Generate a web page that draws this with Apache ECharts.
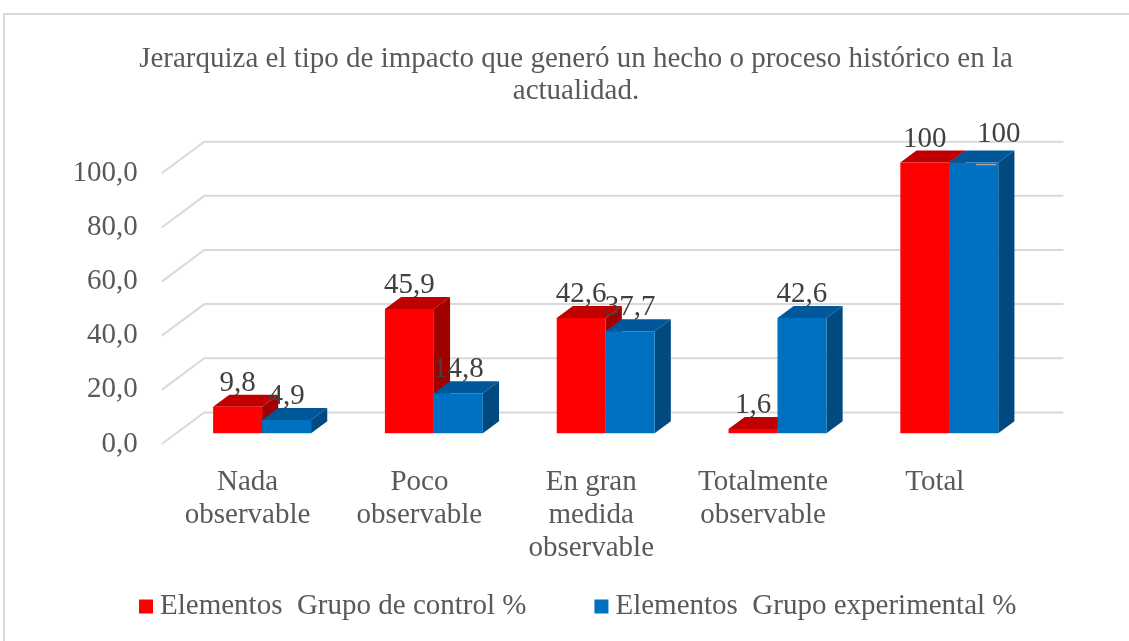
<!DOCTYPE html>
<html>
<head>
<meta charset="utf-8">
<script src="https://cdn.jsdelivr.net/npm/echarts@6/dist/echarts.min.js"></script>
<style>
  html, body { margin: 0; padding: 0; background: #fff; }
  #chart { width: 1129px; height: 641px; }
</style>
</head>
<body>
<div id="chart"></div>
<script>
// datos
const categorias = ['Nada\nobservable', 'Poco\nobservable', 'En gran\nmedida\nobservable', 'Totalmente\nobservable', 'Total'];
const grupoControl = [9.8, 45.9, 42.6, 1.6, 100];
const grupoExperimental = [4.9, 14.8, 37.7, 42.6, 100];
const ticksY = [0, 20, 40, 60, 80, 100];
const nombres = ['Elementos  Grupo de control %', 'Elementos  Grupo experimental %'];

const FONT = "'Liberation Serif', 'Times New Roman', serif";
const FS = 29;
// desplazamiento del piso 3D (frente -> fondo)
const DX = 42.6, DY = -31.6;
const BAR_FRONT = 0.34, BAR_BACK = 0.72;

function fmt(v) {
  return Number.isInteger(v) ? String(v) : v.toFixed(1).replace('.', ',');
}

// etiqueta movida a mano (como en el original)
const labelShift = { '1-4': [25, -5] };

function barRender(serieIdx, front, top, side) {
  return function (params, api) {
    const idx = api.value(0);
    const val = api.value(1);
    const base = api.coord([idx, 0]);
    const tip = api.coord([idx, val]);
    const band = api.size([1, 0])[0];
    const w = band * 0.285;
    const fx = BAR_FRONT * DX, fy = BAR_FRONT * DY;
    const bx = (BAR_BACK - BAR_FRONT) * DX, by = (BAR_BACK - BAR_FRONT) * DY;
    const x0 = base[0] + fx + (serieIdx === 0 ? -w : 0);
    const x1 = x0 + w;
    const yb = base[1] + fy;
    const yt = tip[1] + fy;
    const children = [
      { type: 'polygon', shape: { points: [[x1, yb], [x1 + bx, yb + by], [x1 + bx, yt + by], [x1, yt]] }, style: { fill: side } },
      { type: 'polygon', shape: { points: [[x0, yt], [x0 + bx, yt + by], [x1 + bx, yt + by], [x1, yt]] }, style: { fill: top } },
      { type: 'rect', shape: { x: x0, y: yt, width: w, height: yb - yt }, style: { fill: front } }
    ];
    const sh = labelShift[serieIdx + '-' + idx] || [0, 0];
    if (sh[0] !== 0) {
      children.push({ type: 'line', shape: { x1: (x0 + x1) / 2 + 2, y1: yt + 2, x2: x1 - 2, y2: yt + 2 }, style: { stroke: '#A6A6A6', lineWidth: 1.5 } });
    }
    children.push({
      type: 'text',
      x: (x0 + x1) / 2 + sh[0],
      y: yt + by + 3 + sh[1],
      style: { text: fmt(val), fill: '#404040', font: FS + 'px ' + FONT, align: 'center', verticalAlign: 'bottom' }
    });
    return { type: 'group', children: children };
  };
}

const chart = echarts.init(document.getElementById('chart'));

const option = {
  animation: false,
  backgroundColor: '#fff',
  title: {
    text: 'Jerarquiza el tipo de impacto que generó un hecho o proceso histórico en la\nactualidad.',
    left: 571,
    top: 38,
    textAlign: 'center',
    textStyle: { fontFamily: FONT, fontSize: FS, fontWeight: 'normal', color: '#595959', lineHeight: 32 }
  },
  graphic: [
    { type: 'rect', shape: { x: 4, y: 14, width: 1200, height: 700 }, style: { fill: 'none', stroke: '#D9D9D9', lineWidth: 2 }, silent: true }
  ],
  legend: {
    left: 139,
    top: 592,
    padding: 0,
    itemWidth: 14,
    itemHeight: 14,
    itemGap: 68,
    icon: 'rect',
    textStyle: { fontFamily: FONT, fontSize: FS, color: '#595959', padding: [0, 0, 0, 2] },
    data: nombres
  },
  grid: { left: 161.7, right: 108.3, top: 173.3, bottom: 197 },
  xAxis: {
    type: 'category',
    data: categorias,
    axisLine: { show: false },
    axisTick: { show: false },
    axisLabel: { fontFamily: FONT, fontSize: FS, color: '#595959', lineHeight: 33, margin: 22, interval: 0 }
  },
  yAxis: {
    type: 'value',
    min: 0,
    max: 100,
    interval: 20,
    splitLine: { show: false },
    axisLine: { show: false },
    axisTick: { show: false },
    axisLabel: {
      fontFamily: FONT, fontSize: FS, color: '#595959', margin: 24,
      formatter: v => v.toFixed(1).replace('.', ',')
    }
  },
  series: [
    {
      type: 'custom',
      name: 'grid3d',
      silent: true,
      clip: false,
      z: 1,
      data: ticksY.map(v => [0, v]),
      renderItem: function (params, api) {
        const y = api.coord([0, api.value(1)])[1];
        const cs = params.coordSys;
        return {
          type: 'polyline',
          shape: { points: [[cs.x, y], [cs.x + DX, y + DY], [cs.x + cs.width + DX, y + DY]] },
          style: { stroke: '#D9D9D9', lineWidth: 2, fill: 'none' }
        };
      }
    },
    {
      type: 'custom',
      name: nombres[0],
      clip: false,
      z: 2,
      itemStyle: { color: '#FF0000' },
      data: grupoControl.map((v, i) => [i, v]),
      renderItem: barRender(0, '#FF0000', '#C00000', '#A00000')
    },
    {
      type: 'custom',
      name: nombres[1],
      clip: false,
      z: 3,
      itemStyle: { color: '#0070C0' },
      data: grupoExperimental.map((v, i) => [i, v]),
      renderItem: barRender(1, '#0070C0', '#00589A', '#004A80')
    }
  ]
};

chart.setOption(option);
</script>
</body>
</html>
